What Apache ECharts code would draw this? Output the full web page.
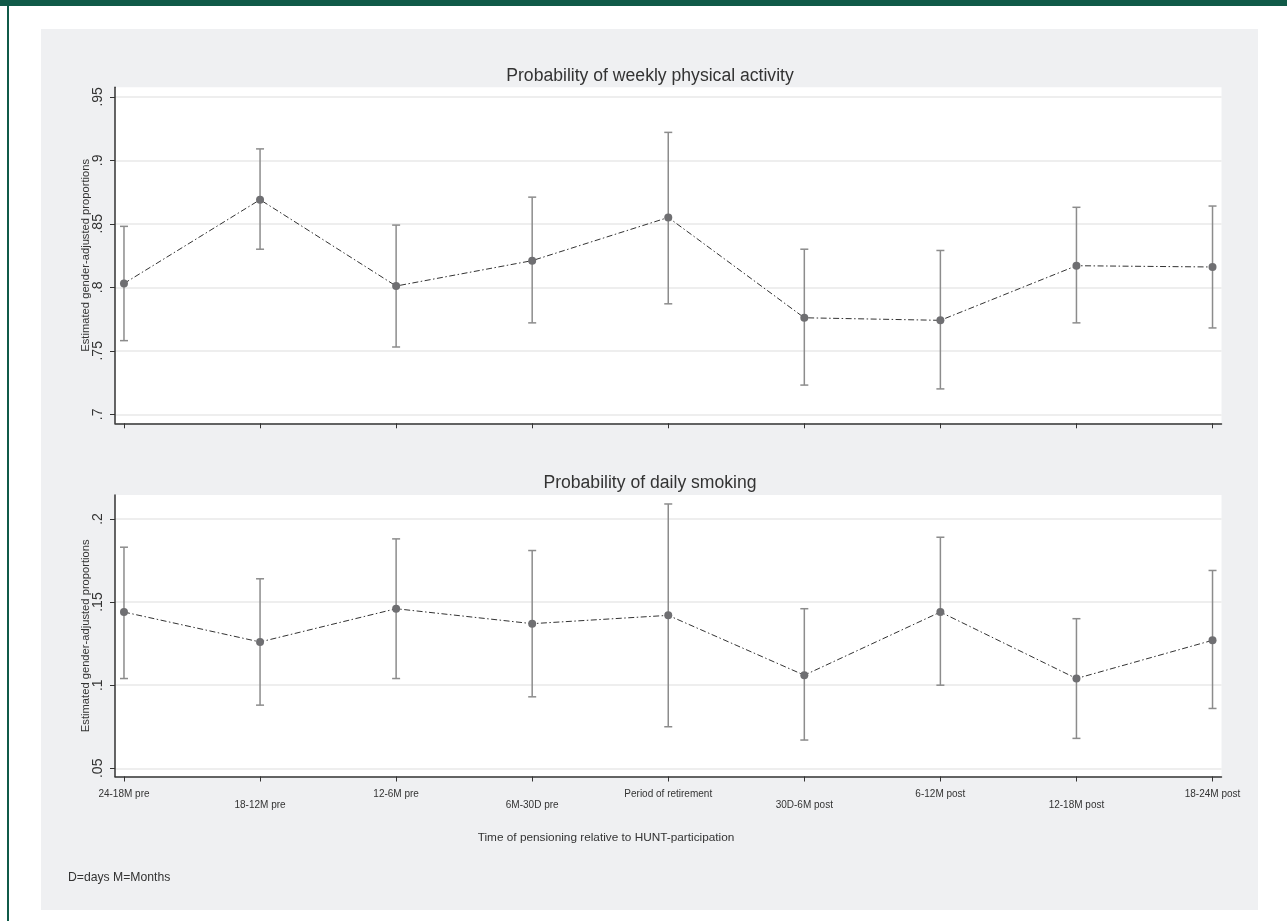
<!DOCTYPE html>
<html>
<head>
<meta charset="utf-8">
<script src="https://cdn.jsdelivr.net/npm/echarts@6/dist/echarts.min.js"></script>
<style>
html,body{margin:0;padding:0;background:#fff;}
#chart{width:1287px;height:921px;}
</style>
</head>
<body>
<div id="chart"></div>
<script>
// ---- data ----
var categories = ['24-18M pre','18-12M pre','12-6M pre','6M-30D pre','Period of retirement','30D-6M post','6-12M post','12-18M post','18-24M post'];
var activityMean = [0.803, 0.869, 0.801, 0.821, 0.855, 0.776, 0.774, 0.817, 0.816];
var activityLow  = [0.758, 0.830, 0.753, 0.772, 0.787, 0.723, 0.720, 0.772, 0.768];
var activityHigh = [0.848, 0.909, 0.849, 0.871, 0.922, 0.830, 0.829, 0.863, 0.864];
var smokingMean = [0.144, 0.126, 0.146, 0.137, 0.142, 0.106, 0.144, 0.104, 0.127];
var smokingLow  = [0.104, 0.088, 0.104, 0.093, 0.075, 0.067, 0.100, 0.068, 0.086];
var smokingHigh = [0.183, 0.164, 0.188, 0.181, 0.209, 0.146, 0.189, 0.140, 0.169];
var activityTicks = [0.7, 0.75, 0.8, 0.85, 0.9, 0.95];
var activityTickLabels = ['.7', '.75', '.8', '.85', '.9', '.95'];
var smokingTicks = [0.05, 0.1, 0.15, 0.2];
var smokingTickLabels = ['.05', '.1', '.15', '.2'];
var titleTop = 'Probability of weekly physical activity';
var titleBottom = 'Probability of daily smoking';
var yTitle = 'Estimated gender-adjusted proportions';
var xTitle = 'Time of pensioning relative to HUNT-participation';
var footnote = 'D=days M=Months';

// ---- build ----
var FONT = '"Liberation Sans", Arial, Helvetica, sans-serif';
var TXT = '#333';
var xPositions = categories.map(function (c, i) { return i; });

function pairs(vals) { return vals.map(function (v, i) { return [i, v]; }); }
function triples(lo, hi) { return lo.map(function (v, i) { return [i, v, hi[i]]; }); }

function labelFor(ticks, labels) {
  return function (v) {
    for (var i = 0; i < ticks.length; i++) if (Math.abs(ticks[i] - v) < 1e-6) return labels[i];
    return '';
  };
}

function errRender(params, api) {
  var x = api.value(0);
  var lo = api.coord([x, api.value(1)]);
  var hi = api.coord([x, api.value(2)]);
  var w = 4;
  var st = { stroke: '#8c8c8c', lineWidth: 1.5 };
  return {
    type: 'group',
    children: [
      { type: 'line', shape: { x1: lo[0], y1: lo[1], x2: hi[0], y2: hi[1] }, style: st },
      { type: 'line', shape: { x1: lo[0] - w, y1: lo[1], x2: lo[0] + w, y2: lo[1] }, style: st },
      { type: 'line', shape: { x1: hi[0] - w, y1: hi[1], x2: hi[0] + w, y2: hi[1] }, style: st }
    ]
  };
}

function yAxisCfg(gi, min, max, ticks, labels) {
  return {
    type: 'value', gridIndex: gi, min: min, max: max,
    name: yTitle, nameLocation: 'middle', nameGap: 24, nameMoveOverlap: false,
    nameTextStyle: { fontSize: 11.2, color: TXT, fontFamily: FONT },
    axisLine: { show: true, onZero: false, lineStyle: { color: '#333', width: 1.5 } },
    axisTick: { show: true, length: 5, customValues: ticks, lineStyle: { color: '#333', width: 1 } },
    axisLabel: { show: true, rotate: 90, margin: 10, customValues: ticks, formatter: labelFor(ticks, labels),
      fontSize: 14, color: TXT, fontFamily: FONT },
    splitLine: { show: true, lineStyle: { color: '#e8e8e8', width: 1.5 } }
  };
}

function xAxisCfg(gi, showLabels) {
  return {
    type: 'value', gridIndex: gi, min: -0.066, max: 8.066,
    axisLine: { show: true, onZero: false, lineStyle: { color: '#333', width: 1.5 } },
    axisTick: { show: true, length: 5, customValues: xPositions, lineStyle: { color: '#333', width: 1 } },
    axisLabel: {
      show: showLabels, customValues: xPositions, margin: 12, fontSize: 10, lineHeight: 11,
      color: TXT, fontFamily: FONT, verticalAlign: 'top',
      formatter: function (v) { var i = Math.round(v); return (i % 2 ? '\n' : '') + categories[i]; }
    },
    splitLine: { show: false }
  };
}

var option = {
  animation: false,
  backgroundColor: '#ffffff',
  graphic: [
    { type: 'rect', z: -10, shape: { x: 41, y: 29, width: 1217, height: 881 }, style: { fill: '#eff0f2' } },
    { type: 'rect', z: 10, shape: { x: 0, y: 0, width: 1287, height: 6 }, style: { fill: '#105a48' } },
    { type: 'rect', z: 10, shape: { x: 7, y: 0, width: 2, height: 921 }, style: { fill: '#105a48' } },
    { type: 'text', style: { text: titleTop, x: 650, y: 76, textAlign: 'center', textVerticalAlign: 'middle', fontSize: 17.6, fontFamily: FONT, fill: TXT } },
    { type: 'text', style: { text: titleBottom, x: 650, y: 483, textAlign: 'center', textVerticalAlign: 'middle', fontSize: 17.6, fontFamily: FONT, fill: TXT } },
    { type: 'text', style: { text: xTitle, x: 606, y: 838, textAlign: 'center', textVerticalAlign: 'middle', fontSize: 11.8, fontFamily: FONT, fill: TXT } },
    { type: 'text', style: { text: footnote, x: 68, y: 878, textAlign: 'left', textVerticalAlign: 'middle', fontSize: 12.2, fontFamily: FONT, fill: TXT } }
  ],
  grid: [
    { left: 115, right: 65.5, top: 87.3, bottom: 497.7, show: true, backgroundColor: '#ffffff', borderWidth: 0 },
    { left: 115, right: 65.5, top: 495, bottom: 144.5, show: true, backgroundColor: '#ffffff', borderWidth: 0 }
  ],
  xAxis: [xAxisCfg(0, false), xAxisCfg(1, true)],
  yAxis: [
    yAxisCfg(0, 0.69291, 0.9575, activityTicks, activityTickLabels),
    yAxisCfg(1, 0.04507, 0.2144, smokingTicks, smokingTickLabels)
  ],
  series: [
    { type: 'custom', xAxisIndex: 0, yAxisIndex: 0, z: 2, renderItem: errRender, data: triples(activityLow, activityHigh) },
    { type: 'line', xAxisIndex: 0, yAxisIndex: 0, z: 3, data: pairs(activityMean), symbol: 'circle', symbolSize: 8,
      itemStyle: { color: '#6f6f72' }, lineStyle: { color: '#333', width: 1, type: [6, 2.5, 1.5, 2.5] } },
    { type: 'custom', xAxisIndex: 1, yAxisIndex: 1, z: 2, renderItem: errRender, data: triples(smokingLow, smokingHigh) },
    { type: 'line', xAxisIndex: 1, yAxisIndex: 1, z: 3, data: pairs(smokingMean), symbol: 'circle', symbolSize: 8,
      itemStyle: { color: '#6f6f72' }, lineStyle: { color: '#333', width: 1, type: [6, 2.5, 1.5, 2.5] } }
  ]
};

var chart = echarts.init(document.getElementById('chart'), null, { renderer: 'canvas' });
chart.setOption(option);
</script>
</body>
</html>
